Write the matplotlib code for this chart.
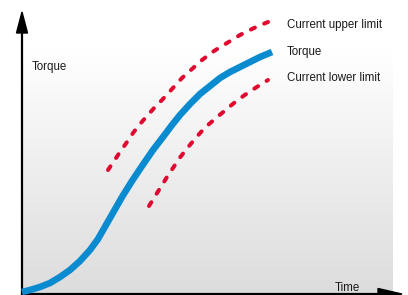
import numpy as np
import matplotlib
matplotlib.use('Agg')
import matplotlib.pyplot as plt
from matplotlib.colors import LinearSegmentedColormap
from matplotlib.patches import Polygon

plt.rcParams['font.family'] = ['Liberation Sans', 'DejaVu Sans']

# values (time / torque from the origin)
torque_t = [0, 8, 18, 28, 38, 48, 58, 68, 76, 84, 92, 100, 110, 120, 131,
            141, 150, 158, 168, 178, 188, 198, 208, 218, 228, 238, 250]
torque_v = [1, 3, 6, 10, 16, 23, 32, 43, 54, 68, 82, 96, 112, 127, 143,
            156, 168, 178, 189, 199, 207, 215, 221, 226, 231, 236, 241]

upper_t = [86, 92, 98, 105, 111, 118, 125, 133, 140, 150, 160, 170, 180,
           192, 205, 218, 232, 246]
upper_v = [123, 132, 141, 151, 160, 169, 177, 186, 193, 204, 215, 224, 233,
           242, 250, 258, 265, 271]

lower_t = [127, 132, 136, 141, 145, 151, 158, 165, 172, 179, 186, 194, 203,
           212, 222, 234, 246]
lower_v = [87, 95, 101.5, 109.5, 116, 125, 135.5, 144.5, 153, 161, 168, 175,
           182.5, 190, 197.5, 205.5, 213]

labels = ['Current upper limit', 'Torque', 'Current lower limit']
label_v = [265, 238, 212]

blue = '#0a8bd0'
red = '#e0082f'

fig = plt.figure(figsize=(4.08, 2.95), dpi=100)
ax = fig.add_axes([0, 0, 1, 1])
ax.set_xlim(-22, 386)
ax.set_ylim(-2, 293)
ax.axis('off')

# grey gradient background
grad = np.linspace(0, 1, 256).reshape(-1, 1)
cmap = LinearSegmentedColormap.from_list('bg', ['#dcdcdc', '#ffffff'])
ax.imshow(grad, extent=[1, 371, -2, 243], aspect='auto', cmap=cmap,
          origin='lower', zorder=0)

# axes with arrow heads
ax.plot([0, 0], [-2, 265], color='black', lw=1.6, zorder=2)
ax.add_patch(Polygon([[-5.5, 260], [5.5, 260], [0, 281]], closed=True,
                     color='black', zorder=2))
ax.plot([0, 360], [-1, -1], color='black', lw=1.6, zorder=2)
ax.add_patch(Polygon([[356, 4.5], [356, -6.5], [380, -1]], closed=True,
                     color='black', zorder=2))

ax.plot(torque_t, torque_v, color=blue, lw=4.8, solid_capstyle='butt',
        solid_joinstyle='round', zorder=3)
for t, v in [(upper_t, upper_v), (lower_t, lower_v)]:
    ax.plot(t, v, color=red, lw=2.9, dashes=(1.1, 2.5),
            dash_capstyle='round', dash_joinstyle='round', zorder=3)

for lab, v in zip(labels, label_v):
    ax.text(265, v, lab, fontsize=8.3, color='#1a1a1a', va='baseline')
ax.text(10, 223, 'Torque', fontsize=8.3, color='#1a1a1a', va='baseline')
ax.text(313, 2, 'Time', fontsize=8.3, color='#1a1a1a', va='baseline')

fig.savefig('out.png', dpi=100)
